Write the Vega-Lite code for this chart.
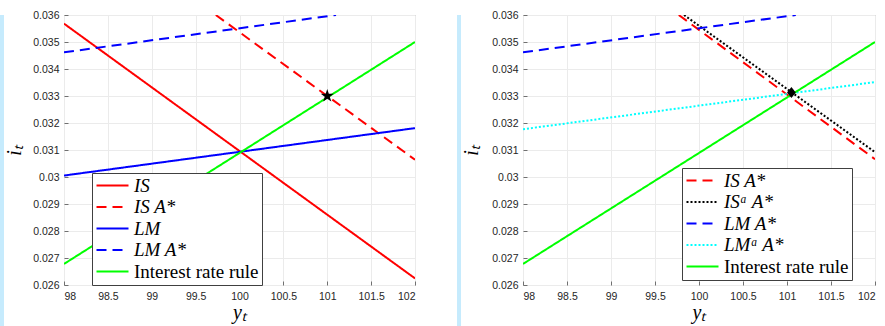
{
  "$schema": "https://vega.github.io/schema/vega-lite/v6.json",
  "padding": 0,
  "background": "white",
  "datasets": {
    "lines": [
      {"panel": "A", "series": "IS", "x": 98, "y": 0.03568},
      {"panel": "A", "series": "IS", "x": 102, "y": 0.026245},
      {"panel": "A", "series": "IS A*", "x": 99.73, "y": 0.036},
      {"panel": "A", "series": "IS A*", "x": 102, "y": 0.03064},
      {"panel": "A", "series": "LM", "x": 98, "y": 0.030054},
      {"panel": "A", "series": "LM", "x": 102, "y": 0.03181},
      {"panel": "A", "series": "LM A*", "x": 98, "y": 0.034617},
      {"panel": "A", "series": "LM A*", "x": 101.1, "y": 0.036},
      {"panel": "A", "series": "Interest rate rule", "x": 98, "y": 0.02678},
      {"panel": "A", "series": "Interest rate rule", "x": 102, "y": 0.035},
      {"panel": "B", "series": "IS A*", "x": 99.77, "y": 0.036},
      {"panel": "B", "series": "IS A*", "x": 102, "y": 0.03066},
      {"panel": "B", "series": "ISᵃ A*", "x": 99.83, "y": 0.036},
      {"panel": "B", "series": "ISᵃ A*", "x": 102, "y": 0.03092},
      {"panel": "B", "series": "LM A*", "x": 98, "y": 0.034617},
      {"panel": "B", "series": "LM A*", "x": 101.1, "y": 0.036},
      {"panel": "B", "series": "LMᵃ A*", "x": 98, "y": 0.03177},
      {"panel": "B", "series": "LMᵃ A*", "x": 102, "y": 0.033515},
      {"panel": "B", "series": "Interest rate rule", "x": 98, "y": 0.02678},
      {"panel": "B", "series": "Interest rate rule", "x": 102, "y": 0.035}
    ],
    "markers": [
      {"panel": "A", "x": 101, "y": 0.033},
      {"panel": "B", "x": 101.05, "y": 0.033133}
    ],
    "strip": [{"s": 1}]
  },
  "config": {
    "view": {"stroke": "#a0a0a0", "strokeWidth": 1},
    "axis": {
      "domain": false,
      "grid": true,
      "gridColor": "#ebebeb",
      "gridWidth": 1,
      "tickColor": "#707070",
      "tickSize": -4,
      "tickCount": 20,
      "labelOverlap": false,
      "labelFont": "Liberation Sans",
      "labelFontSize": 10.5,
      "labelColor": "#262626",
      "titleFont": "Liberation Serif",
      "titleFontStyle": "italic",
      "titleFontWeight": "normal",
      "titleFontSize": 20,
      "titleColor": "#000000"
    },
    "legend": {
      "orient": "none",
      "fillColor": "white",
      "strokeColor": "#404040",
      "padding": 3,
      "rowPadding": 1.5,
      "symbolType": "M-2,0H2",
      "symbolSize": 256,
      "symbolOffset": 8,
      "symbolStrokeWidth": 2,
      "labelFont": "Liberation Serif",
      "labelFontSize": 19,
      "labelColor": "#000000",
      "labelOffset": 12,
      "labelLimit": 300
    }
  },
  "resolve": {
    "scale": {"x": "independent", "y": "independent", "color": "independent", "strokeDash": "independent"},
    "axis": {"x": "independent", "y": "independent"},
    "legend": {"color": "independent", "strokeDash": "independent"}
  },
  "hconcat": [
    {
      "spacing": 0,
      "resolve": {
        "scale": {"x": "independent", "y": "independent", "color": "independent", "strokeDash": "independent"},
        "legend": {"color": "independent", "strokeDash": "independent"}
      },
      "hconcat": [
        {
          "width": 4, "height": 326,
          "data": {"name": "strip"},
          "mark": {"type": "rect", "fill": "#c6ebfd"},
          "encoding": {},
          "view": {"stroke": null, "fill": "#c6ebfd"}
        },
        {
          "width": 351, "height": 270,
          "title": {"text": " ", "fontSize": 9, "offset": 0},
          "layer": [
            {
              "data": {"name": "lines"},
              "transform": [{"filter": "datum.panel == 'A'"}],
              "mark": {"type": "line", "strokeWidth": 2, "clip": true},
              "encoding": {
                "x": {"field": "x", "type": "quantitative",
                      "scale": {"domain": [98, 102], "nice": false, "zero": false},
                      "axis": {"title": "yₜ", "values": [98, 98.5, 99, 99.5, 100, 100.5, 101, 101.5, 102], "tickCount": 20, "format": "~g", "labelOverlap": false, "labelPadding": 10, "titlePadding": 1}},
                "y": {"field": "y", "type": "quantitative",
                      "scale": {"domain": [0.026, 0.036], "nice": false, "zero": false},
                      "axis": {"title": "iₜ", "values": [0.026, 0.027, 0.028, 0.029, 0.03, 0.031, 0.032, 0.033, 0.034, 0.035, 0.036], "tickCount": 20, "format": "~g", "labelOverlap": false, "labelPadding": 9, "titlePadding": 8}},
                "detail": {"field": "series"},
                "color": {"field": "series", "type": "nominal",
                          "scale": {"domain": ["IS", "IS A*", "LM", "LM A*", "Interest rate rule"], "range": ["#ff0000", "#ff0000", "#0000ff", "#0000ff", "#00ff00"]},
                          "legend": {"title": null, "legendX": 28, "legendY": 158,
                                     "encode": {"labels": {"update": {"fontStyle": {"signal": "datum.label == 'Interest rate rule' ? 'normal' : 'italic'"}}}}}},
                "strokeDash": {"field": "series", "type": "nominal",
                          "scale": {"domain": ["IS", "IS A*", "LM", "LM A*", "Interest rate rule"], "range": [[1, 0], [10, 6], [1, 0], [10, 6], [1, 0]]},
                          "legend": {"title": null, "legendX": 28, "legendY": 158,
                                     "encode": {"labels": {"update": {"fontStyle": {"signal": "datum.label == 'Interest rate rule' ? 'normal' : 'italic'"}}}}}}
              }
            },
            {
              "data": {"name": "markers"},
              "transform": [{"filter": "datum.panel == 'A'"}],
              "mark": {"type": "point", "filled": true, "color": "#000000", "size": 190, "opacity": 1,
                       "shape": "M0,-1L0.2245,-0.309L0.951,-0.309L0.363,0.118L0.588,0.809L0,0.382L-0.588,0.809L-0.363,0.118L-0.951,-0.309L-0.2245,-0.309Z"},
              "encoding": {
                "x": {"field": "x", "type": "quantitative"},
                "y": {"field": "y", "type": "quantitative"}
              }
            }
          ]
        }
      ]
    },
    {
      "spacing": 0,
      "resolve": {
        "scale": {"x": "independent", "y": "independent", "color": "independent", "strokeDash": "independent"},
        "legend": {"color": "independent", "strokeDash": "independent"}
      },
      "hconcat": [
        {
          "width": 4, "height": 326,
          "data": {"name": "strip"},
          "mark": {"type": "rect", "fill": "#c6ebfd"},
          "encoding": {},
          "view": {"stroke": null, "fill": "#c6ebfd"}
        },
        {
          "width": 352, "height": 270,
          "title": {"text": " ", "fontSize": 9, "offset": 0},
          "layer": [
            {
              "data": {"name": "lines"},
              "transform": [{"filter": "datum.panel == 'B'"}],
              "mark": {"type": "line", "strokeWidth": 2, "clip": true},
              "encoding": {
                "x": {"field": "x", "type": "quantitative",
                      "scale": {"domain": [98, 102], "nice": false, "zero": false},
                      "axis": {"title": "yₜ", "values": [98, 98.5, 99, 99.5, 100, 100.5, 101, 101.5, 102], "tickCount": 20, "format": "~g", "labelOverlap": false, "labelPadding": 10, "titlePadding": 1}},
                "y": {"field": "y", "type": "quantitative",
                      "scale": {"domain": [0.026, 0.036], "nice": false, "zero": false},
                      "axis": {"title": "iₜ", "values": [0.026, 0.027, 0.028, 0.029, 0.03, 0.031, 0.032, 0.033, 0.034, 0.035, 0.036], "tickCount": 20, "format": "~g", "labelOverlap": false, "labelPadding": 9, "titlePadding": 10}},
                "detail": {"field": "series"},
                "color": {"field": "series", "type": "nominal",
                          "scale": {"domain": ["IS A*", "ISᵃ A*", "LM A*", "LMᵃ A*", "Interest rate rule"], "range": ["#ff0000", "#000000", "#0000ff", "#00ffff", "#00ff00"]},
                          "legend": {"title": null, "legendX": 159, "legendY": 153,
                                     "encode": {"labels": {"update": {"fontStyle": {"signal": "datum.label == 'Interest rate rule' ? 'normal' : 'italic'"}}}}}},
                "strokeDash": {"field": "series", "type": "nominal",
                          "scale": {"domain": ["IS A*", "ISᵃ A*", "LM A*", "LMᵃ A*", "Interest rate rule"], "range": [[10, 6], [2, 2], [10, 6], [2, 2], [1, 0]]},
                          "legend": {"title": null, "legendX": 159, "legendY": 153,
                                     "encode": {"labels": {"update": {"fontStyle": {"signal": "datum.label == 'Interest rate rule' ? 'normal' : 'italic'"}}}}}}
              }
            },
            {
              "data": {"name": "markers"},
              "transform": [{"filter": "datum.panel == 'B'"}],
              "mark": {"type": "point", "filled": true, "color": "#000000", "size": 120, "opacity": 1,
                       "shape": "M0,-1L0.8,0L0,1L-0.8,0Z"},
              "encoding": {
                "x": {"field": "x", "type": "quantitative"},
                "y": {"field": "y", "type": "quantitative"}
              }
            }
          ]
        }
      ]
    }
  ],
  "spacing": 41
}
